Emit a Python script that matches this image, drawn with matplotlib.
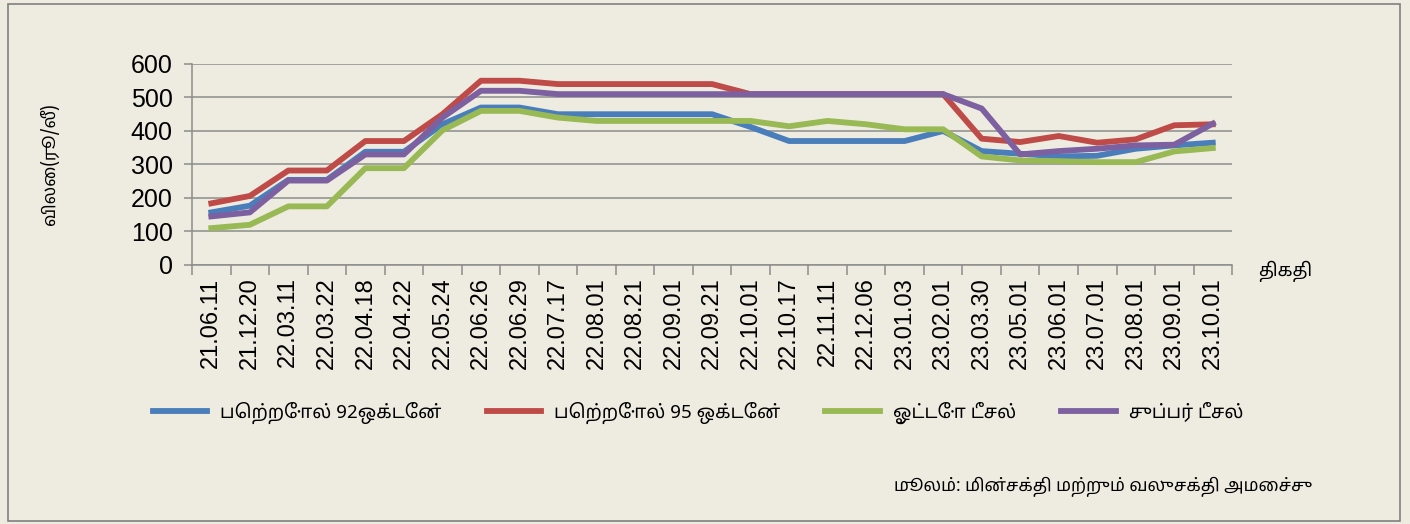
import numpy as np
import matplotlib.pyplot as plt
from matplotlib.patches import Rectangle

dates = ['21.06.11', '21.12.20', '22.03.11', '22.03.22', '22.04.18', '22.04.22',
         '22.05.24', '22.06.26', '22.06.29', '22.07.17', '22.08.01', '22.08.21',
         '22.09.01', '22.09.21', '22.10.01', '22.10.17', '22.11.11', '22.12.06',
         '23.01.03', '23.02.01', '23.03.30', '23.05.01', '23.06.01', '23.07.01',
         '23.08.01', '23.09.01', '23.10.01']

petrol_92 = [157, 177, 254, 254, 338, 338, 420, 470, 470, 450, 450, 450, 450, 450,
             412, 370, 370, 370, 370, 400, 340, 332, 324, 326, 347, 357, 365]
petrol_95 = [184, 206, 282, 282, 370, 370, 450, 550, 550, 540, 540, 540, 540, 540,
             510, 510, 510, 510, 510, 510, 377, 367, 385, 365, 375, 417, 420]
auto_diesel = [110, 120, 175, 175, 289, 289, 402, 460, 460, 440, 430, 430, 430, 430,
               430, 414, 430, 420, 405, 405, 324, 312, 310, 307, 307, 339, 349]
super_diesel = [145, 157, 252, 252, 330, 330, 440, 520, 520, 510, 510, 510, 510, 510,
                510, 510, 510, 510, 510, 510, 467, 330, 340, 347, 357, 359, 422]

series_names = ['பெற்றோல் 92ஒக்டேன்', 'பெற்றோல் 95 ஒக்டேன்', 'ஓட்டோ டீசல்', 'சுப்பர் டீசல்']
colors = ['#4A7EBB', '#BE4B48', '#98B954', '#7D60A0']

tamil = ['Noto Sans Tamil', 'Noto Serif Tamil', 'Lohit Tamil', 'Latha', 'DejaVu Sans']
plt.rcParams['font.family'] = ['Liberation Sans'] + tamil

bg = '#EEECE1'
fig = plt.figure(figsize=(14.1, 5.24), dpi=100, facecolor=bg)
ax = fig.add_axes([0.1362, 0.4943, 0.7376, 0.3836], facecolor=bg)

x = np.arange(len(dates))
for vals, c, name in zip([petrol_92, petrol_95, auto_diesel, super_diesel], colors, series_names):
    ax.plot(x, vals, color=c, lw=4.2, label=name, solid_joinstyle='round')

ax.set_xlim(-0.5, len(dates) - 0.5)
ax.set_ylim(0, 600)
ax.set_yticks(range(0, 601, 100))
ax.grid(axis='y', color='#8C8C8C', lw=1.1)
ax.set_axisbelow(True)

ax.set_xticks(np.arange(-0.5, len(dates), 1))
ax.set_xticklabels([])
ax.set_xticks(x, minor=True)
ax.set_xticklabels(dates, minor=True, rotation=90, fontsize=17)
ax.tick_params(axis='x', which='major', length=7, color='#8C8C8C', width=1.1)
ax.tick_params(axis='x', which='minor', length=0, pad=9)
ax.tick_params(axis='y', length=6, color='#8C8C8C', width=1.1, labelsize=18, pad=8)

for s in ['top', 'right']:
    ax.spines[s].set_visible(False)
for s in ['left', 'bottom']:
    ax.spines[s].set_color('#8C8C8C')
    ax.spines[s].set_linewidth(1.1)

ax.set_ylabel('விலை(ரூ/லீ)', fontsize=12.5, family=tamil)
ax.yaxis.set_label_coords(-0.128, 0.5)
fig.text(1285 / 1410, (524 - 271) / 524, 'திகதி', fontsize=13, ha='center', va='center',
         family=tamil)

fig.legend(loc='center', bbox_to_anchor=(0.495, 0.212), ncol=4, frameon=False,
           handlelength=2.9, columnspacing=2.4, handletextpad=0.7,
           prop={'family': tamil, 'size': 13.5})

fig.text(1312 / 1410, (524 - 487) / 524, 'மூலம்: மின்சக்தி மற்றும் வலுசக்தி அமைச்சு',
         fontsize=12.5, ha='right', va='center', family=tamil)

fig.add_artist(Rectangle((8 / 1410, 3 / 524), 1392 / 1410, 517 / 524, transform=fig.transFigure,
                         fill=False, edgecolor='#7F7F7F', lw=1.2))

fig.savefig('out.png', dpi=100, facecolor=bg)
